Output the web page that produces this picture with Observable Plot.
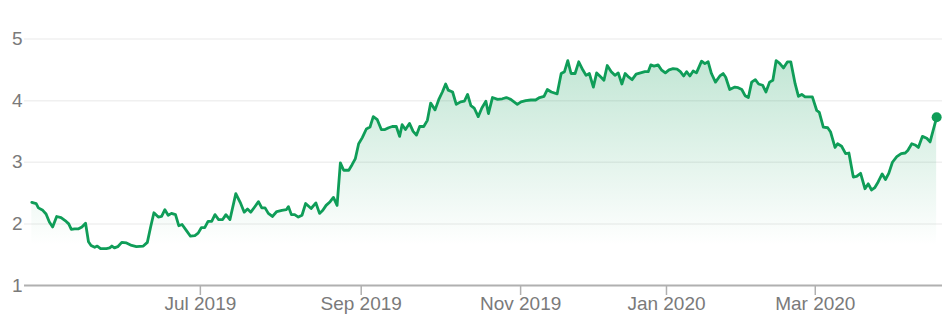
<!DOCTYPE html>
<html>
<head>
<meta charset="utf-8">
<script src="https://cdn.jsdelivr.net/npm/d3@7"></script>
<script src="https://cdn.jsdelivr.net/npm/@observablehq/plot@0.6"></script>
<style>
  html, body { margin: 0; padding: 0; background: #fff; }
  #chart svg g[aria-label="x-axis tick"] { color: #b0b0b0; }
  #chart svg g[aria-label="x-axis tick"] path { stroke-width: 1.5; }
</style>
</head>
<body>
<div id="chart"></div>
<script>
// Trading-day index (0 = first session shown) and closing price
const days = [
  0.0, 1.2, 1.8, 3.0, 3.9, 4.8, 5.7, 6.8, 8.0, 9.4, 10.1, 10.8, 11.7, 12.8, 13.7, 14.7,
  15.5, 16.2, 17.2, 17.9, 18.8, 20.4, 21.3, 21.9, 22.6, 23.5, 24.6, 25.9, 27.3, 28.6, 30.5, 31.6,
  32.5, 33.4, 34.6, 35.5, 36.4, 37.3, 38.2, 39.3, 40.2, 41.1, 42.3, 43.4, 44.6, 45.5, 46.4, 47.3,
  48.2, 49.2, 50.1, 51.1, 52.2, 53.1, 54.2, 55.8, 57.0, 58.1, 59.0, 59.9, 60.9, 62.0, 62.9, 63.8,
  64.7, 65.8, 67.0, 68.4, 69.6, 70.2, 71.0, 71.9, 72.9, 73.9, 74.9, 76.4, 77.7, 78.7, 79.6, 80.5,
  81.6, 82.5, 83.5, 84.4, 85.3, 86.7, 87.6, 88.5, 89.4, 90.4, 91.5, 92.5, 93.4, 94.5, 95.6, 96.6,
  97.6, 98.6, 99.7, 100.6, 101.3, 102.2, 103.3, 104.3, 105.2, 106.1, 107.2, 108.2, 109.1, 110.3, 111.4, 112.3,
  113.2, 113.9, 115.1, 116.1, 117.3, 118.3, 119.2, 120.1, 121.0, 122.1, 123.1, 124.2, 124.9, 126.0, 127.4, 128.7,
  129.8, 131.0, 131.9, 132.8, 133.8, 135.1, 136.5, 137.8, 138.9, 140.1, 141.0, 142.1, 143.7, 144.8, 145.7, 146.6,
  147.5, 148.6, 149.6, 150.7, 151.6, 152.5, 153.6, 154.5, 155.5, 156.5, 157.4, 158.5, 159.5, 160.4, 161.4, 162.3,
  163.3, 164.2, 165.3, 166.5, 167.7, 168.6, 169.3, 170.2, 171.3, 172.2, 173.3, 174.3, 175.4, 176.5, 177.4, 178.3,
  179.1, 180.0, 180.9, 181.8, 183.2, 184.1, 185.0, 185.9, 187.0, 188.2, 189.1, 189.8, 190.9, 192.3, 193.2, 194.2,
  195.1, 196.0, 196.9, 197.9, 198.8, 199.9, 200.8, 201.8, 202.7, 203.6, 204.5, 205.6, 206.7, 207.6, 208.8, 209.7,
  210.6, 211.5, 212.6, 213.5, 214.7, 215.4, 216.5, 217.7, 218.5, 219.7, 220.4, 221.5, 222.6, 223.5, 224.7, 225.6,
  226.7, 227.9, 228.8, 229.7, 230.6, 231.5, 232.6, 233.5, 234.4, 235.4, 236.6, 237.8, 238.9, 239.6, 240.7, 241.6,
  242.5, 243.6, 244.8, 245.7, 247.5
];
const prices = [
  2.35, 2.33, 2.26, 2.22, 2.16, 2.03, 1.95, 2.12, 2.10, 2.04, 2.00, 1.91, 1.92, 1.92, 1.95, 2.01,
  1.71, 1.65, 1.62, 1.64, 1.60, 1.60, 1.61, 1.64, 1.61, 1.63, 1.70, 1.69, 1.65, 1.63, 1.64, 1.70,
  1.95, 2.18, 2.11, 2.12, 2.23, 2.14, 2.17, 2.15, 1.97, 1.99, 1.89, 1.80, 1.81, 1.85, 1.94, 1.94,
  2.04, 2.04, 2.15, 2.07, 2.07, 2.15, 2.07, 2.49, 2.35, 2.19, 2.24, 2.19, 2.27, 2.36, 2.26, 2.26,
  2.17, 2.12, 2.20, 2.22, 2.23, 2.28, 2.15, 2.15, 2.11, 2.14, 2.33, 2.25, 2.34, 2.17, 2.22, 2.30,
  2.36, 2.43, 2.30, 2.99, 2.87, 2.87, 2.96, 3.06, 3.30, 3.40, 3.54, 3.57, 3.74, 3.69, 3.53, 3.53,
  3.56, 3.58, 3.58, 3.42, 3.61, 3.53, 3.63, 3.50, 3.44, 3.58, 3.58, 3.68, 3.96, 3.85, 4.03, 4.14,
  4.27, 4.17, 4.14, 3.94, 3.98, 3.99, 4.10, 3.92, 3.88, 3.74, 3.88, 3.99, 3.79, 4.05, 4.02, 4.03,
  4.05, 4.02, 3.98, 3.94, 3.98, 4.00, 4.01, 4.01, 4.05, 4.07, 4.18, 4.14, 4.11, 4.44, 4.47, 4.65,
  4.44, 4.44, 4.63, 4.50, 4.41, 4.44, 4.22, 4.45, 4.39, 4.33, 4.57, 4.47, 4.41, 4.45, 4.27, 4.44,
  4.38, 4.34, 4.43, 4.45, 4.47, 4.47, 4.58, 4.56, 4.58, 4.50, 4.45, 4.50, 4.52, 4.51, 4.47, 4.40,
  4.47, 4.40, 4.48, 4.45, 4.64, 4.60, 4.63, 4.44, 4.30, 4.40, 4.44, 4.38, 4.18, 4.22, 4.21, 4.18,
  4.08, 4.05, 4.30, 4.34, 4.27, 4.25, 4.14, 4.30, 4.33, 4.65, 4.61, 4.53, 4.63, 4.63, 4.27, 4.07,
  4.10, 4.06, 4.06, 4.06, 3.84, 3.81, 3.57, 3.56, 3.49, 3.24, 3.30, 3.26, 3.14, 3.15, 2.76, 2.77,
  2.82, 2.57, 2.65, 2.55, 2.59, 2.68, 2.81, 2.72, 2.82, 3.00, 3.09, 3.14, 3.15, 3.19, 3.30, 3.28,
  3.24, 3.42, 3.39, 3.33, 3.73
];

// Axis ticks
const xTickDays = [46.1, 90.1, 133.7, 173.6, 214.3];
const xTickLabels = ["Jul 2019", "Sep 2019", "Nov 2019", "Jan 2020", "Mar 2020"];
const xDomain = [-2.0, 249.1];
const yTicks = [1, 2, 3, 4, 5];
const yTickLabels = ["1", "2", "3", "4", "5"];
const gridValues = [2, 3, 4, 5];

const data = days.map((d, i) => ({day: d, price: prices[i]}));
const green = "#0f9d58";

const chart = Plot.plot({
  width: 948,
  height: 336,
  marginLeft: 24,
  marginRight: 6,
  marginTop: 38.5,
  marginBottom: 51,
  style: {
    fontFamily: "'Liberation Sans', Arial, sans-serif",
    fontSize: "19px",
    color: "#7a7a7a",
    background: "#fff"
  },
  x: {
    type: "linear",
    domain: xDomain,
    ticks: xTickDays,
    tickFormat: d => xTickLabels[xTickDays.indexOf(d)],
    tickSize: 10,
    tickPadding: 1,
    label: null
  },
  y: {
    domain: [yTicks[0], yTicks[yTicks.length - 1]],
    ticks: yTicks,
    tickFormat: d => yTickLabels[yTicks.indexOf(d)],
    tickSize: 0,
    tickPadding: 2,
    label: null
  },
  marks: [
    Plot.ruleY(gridValues, {stroke: "#f0f0f0", strokeWidth: 1.5}),
    Plot.areaY(data, {x: "day", y1: yTicks[0], y2: "price", fill: "url(#fadeGreen)"}),
    Plot.ruleY([yTicks[0]], {stroke: "#b0b0b0", strokeWidth: 2}),
    Plot.lineY(data, {x: "day", y: "price", stroke: green, strokeWidth: 2.8, strokeLinejoin: "round"}),
    Plot.dot(data, Plot.selectLast({x: "day", y: "price", r: 5, fill: green, stroke: "none"}))
  ]
});

// gradient for the area fill (vertical fade)
const ns = "http://www.w3.org/2000/svg";
const defs = document.createElementNS(ns, "defs");
const grad = document.createElementNS(ns, "linearGradient");
grad.setAttribute("id", "fadeGreen");
grad.setAttribute("gradientUnits", "userSpaceOnUse");
grad.setAttribute("x1", "0"); grad.setAttribute("x2", "0");
grad.setAttribute("y1", "55"); grad.setAttribute("y2", "245");
[[0, 0.26], [1, 0]].forEach(([o, a]) => {
  const s = document.createElementNS(ns, "stop");
  s.setAttribute("offset", o);
  s.setAttribute("stop-color", green);
  s.setAttribute("stop-opacity", a);
  grad.appendChild(s);
});
defs.appendChild(grad);
chart.insertBefore(defs, chart.firstChild);

document.getElementById("chart").appendChild(chart);
</script>
</body>
</html>
